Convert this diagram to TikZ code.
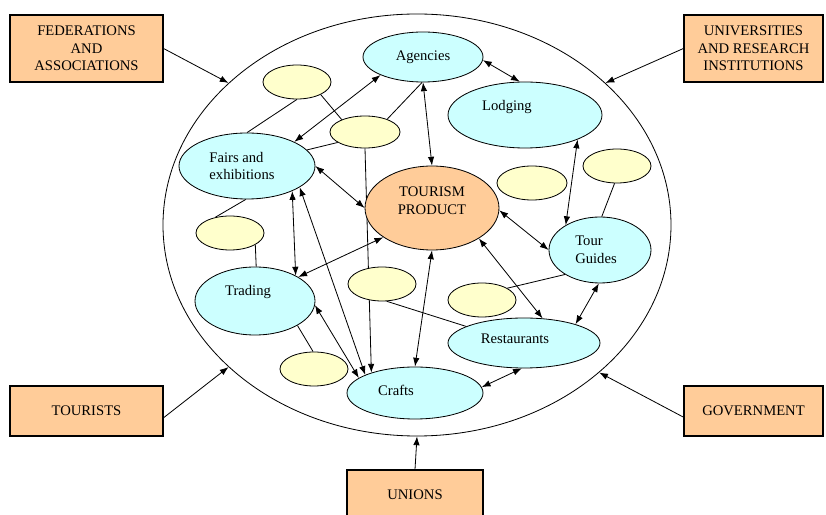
\documentclass[tikz,border=0pt]{standalone}
\usepackage{fontspec}
\setmainfont{Liberation Serif}
\usetikzlibrary{shapes.geometric,arrows.meta,backgrounds}
\definecolor{cy}{HTML}{CCFFFF}
\definecolor{og}{HTML}{FFCC99}
\definecolor{yl}{HTML}{FFFFCC}
\begin{document}
\begin{tikzpicture}[x=0.03cm,y=-0.03cm,
  font=\fontsize{12.5}{15}\selectfont,
  box/.style={draw, line width=1pt, fill=og, align=center, inner sep=0pt},
  bsz/.style 2 args={minimum width=#1*0.03cm, minimum height=#2*0.03cm},
  el/.style={draw, ellipse, line width=0.7pt, inner sep=0pt},
  esz/.style 2 args={minimum width=#1*0.06cm, minimum height=#2*0.06cm},
  act/.style={el, fill=cy},
  prod/.style={el, fill=og},
  blank/.style={el, fill=yl},
  lt/.style={align=left, inner sep=0pt},
  tipa/.tip={Latex[length=7.5pt,width=5.5pt]},
  dbl/.style={tipa-tipa, line width=0.7pt},
  one/.style={-tipa, line width=0.7pt},
  ln/.style={line width=0.7pt}]
\useasboundingbox (0,0) rectangle (826,515);

\node[el, esz={254}{211}] (outer) at (417,225) {};

\node[box,bsz={153}{67}] (fed) at (86.5,48.5) {FEDERATIONS\\AND\\ASSOCIATIONS};
\node[box,bsz={139}{67}] (uni) at (753.5,48.5) {UNIVERSITIES\\AND RESEARCH\\INSTITUTIONS};
\node[box,bsz={153}{50}] (tou) at (86.5,411) {TOURISTS};
\node[box,bsz={139}{50}] (gov) at (753.5,411) {GOVERNMENT};
\node[box,bsz={136}{50}] (uns) at (415,495) {UNIONS};

\node[act,esz={60}{25}] (ag) at (423,57) {Agencies};
\node[act,esz={77}{33},label={[lt,xshift=-18*0.03cm,yshift=8*0.03cm]center:Lodging}] (lo) at (525,115) {};
\node[act,esz={68}{33},label={[lt,xshift=-5*0.03cm]center:Fairs and\\exhibitions}] (fa) at (247,166) {};
\node[prod,esz={67}{42},label={[align=center,inner sep=0pt,yshift=7*0.03cm]center:TOURISM\\PRODUCT}] (tp) at (432,208) {};
\node[act,esz={51}{33},label={[lt,xshift=-4*0.03cm]center:Tour\\Guides}] (tg) at (600,250) {};
\node[act,esz={60}{34},label={[lt,xshift=-7*0.03cm,yshift=9*0.03cm]center:Trading}] (tr) at (255,301) {};
\node[act,esz={76}{25},label={[lt,xshift=-9*0.03cm,yshift=4*0.03cm]center:Restaurants}] (re) at (524,343) {};
\node[act,esz={68}{26},label={[lt,xshift=-19*0.03cm,yshift=3*0.03cm]center:Crafts}] (cr) at (415,393) {};

\node[blank,esz={34}{17}] (y1) at (297,82) {};
\node[blank,esz={35}{16}] (y2) at (365,132) {};
\node[blank,esz={34}{17}] (y3) at (230,233) {};
\node[blank,esz={35}{17}] (y4) at (532,183) {};
\node[blank,esz={34}{17}] (y5) at (617,166) {};
\node[blank,esz={34}{17}] (y6) at (382,284) {};
\node[blank,esz={34}{17}] (y7) at (482,300) {};
\node[blank,esz={34}{17}] (y8) at (314,369) {};

\begin{scope}[on background layer]
\draw[one] (fed.east) -- (outer.143);
\draw[one] (uni.west) -- (outer.37.6);
\draw[one] (tou.-5) -- (outer.217.8);
\draw[one] (gov.185) -- (outer.321.9);
\draw[one] (uns.north) -- (outer.270);

\draw[dbl] (ag.-3) -- (lo.99);
\draw[dbl] (ag.203) -- (fa.27);
\draw[dbl] (ag.270) -- (tp.90);
\draw[dbl] (lo.335) -- (tg.144);
\draw[dbl] (fa.0) -- (tp.180);
\draw[dbl] (tp.-2) -- (tg.180);
\draw[dbl] (tp.327) -- (re.53);
\draw[dbl] (tp.211) -- (tr.29);
\draw[dbl] (tp.270) -- (cr.90);
\draw[dbl] (fa.331) -- (tr.32);
\draw[dbl] (fa.338) -- (cr.160);
\draw[dbl] (tr.356) -- (cr.165);
\draw[one] (y2.270) -- (cr.155);
\draw[dbl] (tg.268) -- (re.20);
\draw[dbl] (re.265) -- (cr.5);

\draw[ln] (y1.270) -- (fa.90);
\draw[ln] (y1.332) -- (y2.152);
\draw[ln] (y2.30) -- (ag.268);
\draw[ln] (y2.201) -- (fa.15);
\draw[ln] (y3.133) -- (fa.268);
\draw[ln] (y3.335) -- (tr.88);
\draw[ln] (y8.93) -- (tr.330);
\draw[ln] (y6.285) -- (re.164);
\draw[ln] (y7.25) -- (tg.215);
\draw[ln] (y5.262) -- (tg.87);
\end{scope}
\end{tikzpicture}
\end{document}
